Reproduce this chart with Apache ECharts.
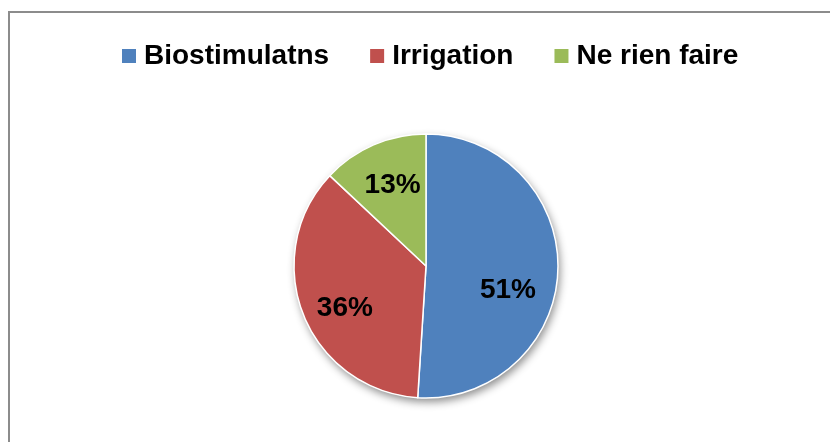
<!DOCTYPE html>
<html>
<head>
<meta charset="utf-8">
<script src="https://cdn.jsdelivr.net/npm/echarts@6/dist/echarts.min.js"></script>
<style>
  html, body { margin: 0; padding: 0; background: #fff; }
  #wrap { position: relative; width: 830px; height: 442px; overflow: hidden; }
  #frame { position: absolute; left: 8px; top: 11px; width: 900px; height: 500px;
           border-left: 2px solid #8c8c8c; border-top: 2px solid #8c8c8c; box-sizing: border-box; }
  #chart { position: absolute; left: 0; top: 0; width: 830px; height: 442px; }
</style>
</head>
<body>
<div id="wrap">
  <div id="frame"></div>
  <div id="chart"></div>
</div>
<script>
// Answers (percent of respondents)
const categories = ['Biostimulatns', 'Irrigation', 'Ne rien faire'];
const shares = [51, 36, 13];
const colors = ['#4f81bd', '#c0504d', '#9bbb59'];
// nudges that move each percentage label to where the slice has room
const labelNudges = [[13, 22], [-17, 17], [-6, -17]];

const font = '"Liberation Sans", Arial, sans-serif';

const chart = echarts.init(document.getElementById('chart'), null, { renderer: 'canvas' });

const pieData = categories.map((name, i) => ({
  name,
  value: shares[i],
  itemStyle: { color: colors[i] },
  label: { offset: labelNudges[i] }
}));

chart.setOption({
  backgroundColor: 'transparent',
  animation: false,
  legend: {
    data: categories,
    left: 122,
    top: 42,
    padding: 0,
    icon: 'rect',
    itemWidth: 14,
    itemHeight: 14,
    itemGap: 41,
    itemStyle: { borderWidth: 0 },
    textStyle: {
      fontFamily: font,
      fontWeight: 'bold',
      fontSize: 28,
      color: '#000',
      padding: [0, 0, 0, 3]
    }
  },
  series: [
    {
      // soft drop shadow under the whole pie
      type: 'pie',
      silent: true,
      legendHoverLink: false,
      center: [426, 266],
      radius: 132,
      z: 1,
      label: { show: false },
      labelLine: { show: false },
      itemStyle: {
        color: '#fff',
        shadowColor: 'rgba(0,0,0,0.45)',
        shadowBlur: 8,
        shadowOffsetX: 2,
        shadowOffsetY: 4
      },
      data: [{ name: '', value: shares.reduce((a, b) => a + b, 0) }],
      tooltip: { show: false }
    },
    {
      type: 'pie',
      center: [426, 266],
      radius: 132,
      startAngle: 90,
      clockwise: true,
      z: 2,
      itemStyle: { borderColor: '#fff', borderWidth: 1.5 },
      label: {
        show: true,
        position: 'inside',
        formatter: '{c}%',
        fontFamily: font,
        fontWeight: 'bold',
        fontSize: 28,
        color: '#000'
      },
      labelLine: { show: false },
      data: pieData
    }
  ]
});
</script>
</body>
</html>
